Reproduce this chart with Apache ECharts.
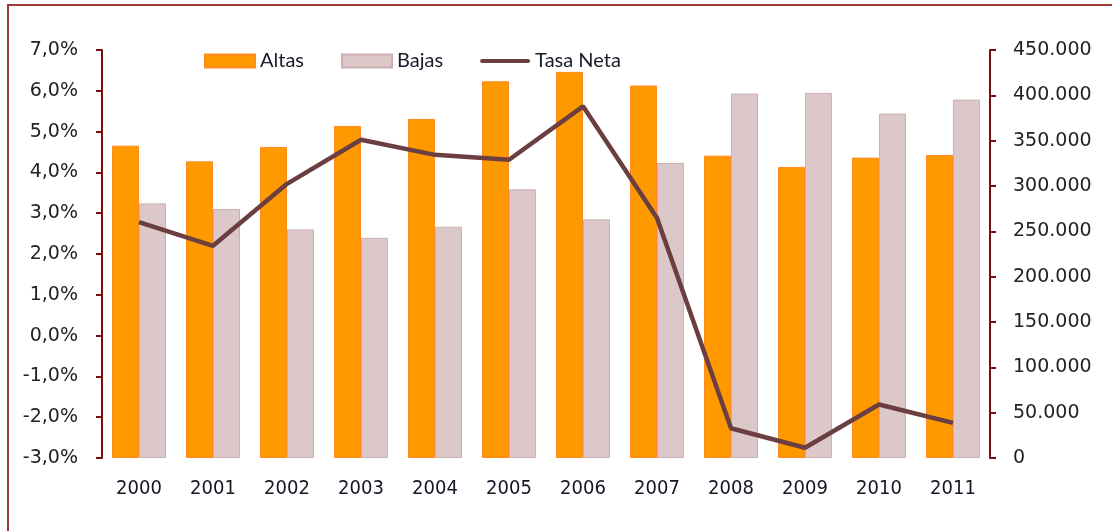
<!DOCTYPE html>
<html>
<head>
<meta charset="utf-8">
<script src="https://cdn.jsdelivr.net/npm/echarts@6/dist/echarts.min.js"></script>
<style>
html,body{margin:0;padding:0;background:#fff;}
#chart{width:1112px;height:531px;}
</style>
</head>
<body>
<div id="chart"></div>
<script>
var categories = ['2000','2001','2002','2003','2004','2005','2006','2007','2008','2009','2010','2011'];
var altas = [344500, 327200, 343100, 366300, 374000, 415500, 425900, 410800, 333500, 321000, 331300, 334200];
var bajas = [280800, 274600, 252100, 242900, 255100, 296300, 263200, 325400, 402000, 402700, 379900, 395300];
var tasaNeta = [2.78, 2.20, 3.72, 4.80, 4.43, 4.31, 5.62, 2.88, -2.27, -2.75, -1.69, -2.14];

var axisColor = '#7a0c0c';
var chart = echarts.init(document.getElementById('chart'));
chart.setOption({
  animation: false,
  backgroundColor: '#fff',
  graphic: [
    {type:'rect', left:7, top:4, shape:{width:2, height:527}, style:{fill:'#9b3a35'}},
    {type:'rect', left:7, top:4, shape:{width:1105, height:2}, style:{fill:'#9b3a35'}}
  ],
  legend: {
    top: 46,
    left: 199,
    itemWidth: 50,
    itemHeight: 13,
    itemGap: 37,
    symbolKeepAspect: true,
    textStyle: {fontFamily: 'Lato', fontSize: 20, color: '#1a1a2a'},
    data: [
      {name:'Altas', icon:'rect'},
      {name:'Bajas', icon:'rect'},
      {name:'Tasa Neta', icon:'path://M2,0 L48,0 A2,2 0 0 1 48,4 L2,4 A2,2 0 0 1 2,0 Z'}
    ]
  },
  grid: {left: 102, right: 122, top: 50, bottom: 73},
  xAxis: {
    type: 'category',
    data: categories,
    axisLine: {show: false},
    axisTick: {show: false},
    axisLabel: {margin: 21, fontFamily: 'Liberation Sans Narrow, DejaVu Sans Condensed, Liberation Sans', fontSize: 20, color: '#151525'}
  },
  yAxis: [
    {
      type: 'value',
      min: -3, max: 7, interval: 1,
      position: 'left',
      splitLine: {show: false},
      axisLine: {show: true, lineStyle: {color: axisColor, width: 2}},
      axisTick: {show: true, length: 6, lineStyle: {color: axisColor, width: 2}},
      axisLabel: {margin: 24, fontFamily: 'DejaVu Sans', fontSize: 19, color: '#222',
        formatter: function(v){ return v.toFixed(1).replace('.', ',') + '%'; }}
    },
    {
      type: 'value',
      min: 0, max: 450000, interval: 50000,
      position: 'right',
      splitLine: {show: false},
      axisLine: {show: true, lineStyle: {color: axisColor, width: 2}},
      axisTick: {show: true, length: 6, lineStyle: {color: axisColor, width: 2}},
      axisLabel: {margin: 23, fontFamily: 'DejaVu Sans', fontSize: 19, color: '#222',
        formatter: function(v){ return v === 0 ? '0' : (v/1000).toFixed(0) + '.000'; }}
    }
  ],
  series: [
    {
      name: 'Altas', type: 'bar', yAxisIndex: 1, data: altas,
      barWidth: 27, barGap: '0%',
      itemStyle: {color: '#ff9900', borderColor: '#ff8a20', borderWidth: 1}
    },
    {
      name: 'Bajas', type: 'bar', yAxisIndex: 1, data: bajas,
      barWidth: 27, barGap: '0%',
      itemStyle: {color: '#dcc8c9', borderColor: '#cbb0b2', borderWidth: 1}
    },
    {
      name: 'Tasa Neta', type: 'line', yAxisIndex: 0, data: tasaNeta,
      symbol: 'none',
      lineStyle: {color: '#6b3f42', width: 4.5},
      itemStyle: {color: '#6b3f42'}
    }
  ]
});
</script>
</body>
</html>
